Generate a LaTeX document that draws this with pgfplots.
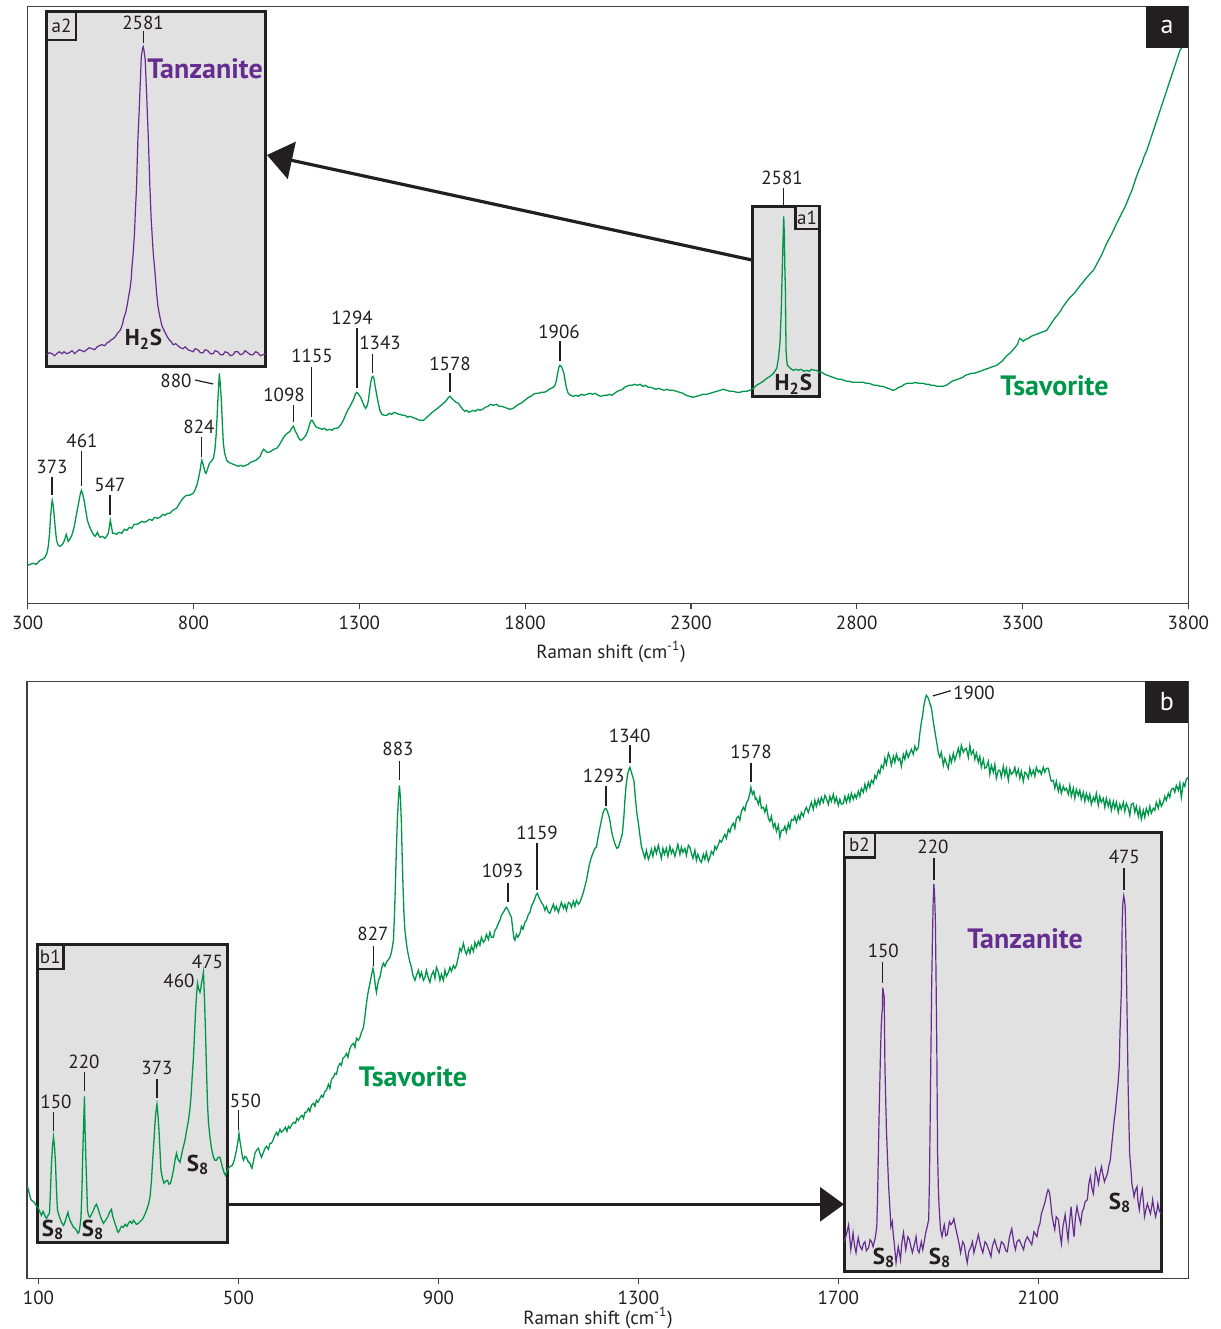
\documentclass[border=0pt]{standalone}
\usepackage{pgfplots}
\pgfplotsset{compat=1.18}
\usepackage{fontspec}
\setmainfont{PT Sans}
\usetikzlibrary{arrows.meta}
\definecolor{tsav}{HTML}{00964A}
\definecolor{tanz}{HTML}{662D91}
\definecolor{boxg}{HTML}{E1E1E1}
\definecolor{ink}{HTML}{231F20}
\definecolor{axc}{HTML}{404040}
\newcommand{\lblfont}{\fontsize{9.5}{11}\selectfont}
\newcommand{\bigbold}{\fontsize{14}{15}\selectfont\bfseries}
\newcommand{\pk}[6]{\node[lbl] at (#1,#2) {#3}; \draw[ink,line width=0.6pt] (#4,#5) -- (#4,#6);}
\pgfplotsset{
  mainax/.style={scale only axis, anchor=south west, ymin=0, ymax=597, ytick=\empty,
    axis line style={draw=axc, line width=0.7pt}, tick align=outside, xtick pos=left,
    major tick length=3pt, tick style={draw=axc, line width=0.6pt},
    ticklabel style={font=\lblfont, text=ink}, scaled x ticks=false,
    /pgf/number format/assume math mode=true, /pgf/number format/1000 sep={}},
  insetax/.style={scale only axis, anchor=south west, xtick=\empty, ytick=\empty,
    axis background/.style={fill=boxg}, axis line style={draw=ink, line width=1.5pt}}
}
\begin{document}
\begin{tikzpicture}[x=0.5pt,y=-0.5pt, lbl/.style={font=\lblfont, text=ink, inner sep=0pt}]
\path (0,0) rectangle (1221,1329);
% gray boxes beneath spectra
\draw[fill=boxg, draw=ink, line width=1.5pt] (752,206) rectangle (819,396.7);
\draw[fill=boxg, draw=ink, line width=1.5pt] (37.3,944.3) rectangle (227,1242.3);

% ---------------- panel a ----------------
\begin{axis}[mainax, at={(13.85pt,-301.65pt)}, width=580.3pt, height=298.5pt,
  xmin=300, xmax=3800, xtick={300,800,...,3800}]
\addplot[tsav, line width=0.65pt] table {
300 38
315 40
326 39
337 43
345 44
352 46
358 50
362 57
366 70
369 87
372 98
374 103
377 98
380 87
384 72
387 63
392 58
397 57
402 58
407 60
412 64
416 69
419 66
422 62
427 64
433 68
440 76
446 87
451 96
455 103
459 110
462 113
466 109
470 103
475 93
480 83
486 77
493 72
498 69
503 67
507 69
510 71
514 68
518 66
525 67
533 65
538 67
543 70
546 76
549 83
552 78
556 70
562 70
568 69
576 71
584 70
591 74
599 73
607 76
614 75
621 79
629 79
636 80
644 82
651 81
659 82
667 84
675 83
683 86
691 85
699 86
707 89
714 88
722 90
729 90
737 93
743 94
749 95
756 99
762 102
768 105
774 107
780 108
787 108
793 109
799 110
804 113
810 118
815 125
820 133
823 140
825 143
828 140
832 135
835 131
838 130
843 135
848 140
854 142
860 145
864 152
868 167
871 185
873 200
876 218
878 230
881 218
884 203
887 180
890 160
894 150
900 143
906 141
913 140
920 139
928 138
935 137
943 138
950 137
958 138
965 139
972 141
980 142
988 143
995 145
1001 147
1006 151
1011 154
1016 153
1021 151
1026 151
1034 152
1042 154
1051 155
1058 158
1065 162
1070 165
1076 168
1083 170
1091 172
1096 175
1101 177
1104 175
1107 172
1111 170
1116 166
1120 164
1124 163
1129 164
1134 166
1139 168
1145 173
1151 180
1155 183
1158 183
1163 180
1168 177
1172 176
1180 175
1188 174
1195 175
1202 173
1210 174
1218 173
1225 175
1232 175
1238 176
1245 179
1252 183
1258 188
1265 193
1272 197
1278 201
1284 205
1288 209
1292 211
1296 210
1300 208
1304 206
1309 202
1314 198
1319 195
1323 197
1327 202
1331 212
1334 220
1338 226
1341 227
1344 225
1347 219
1350 213
1355 204
1362 193
1368 189
1375 188
1383 188
1390 190
1398 189
1405 191
1413 190
1418 189
1423 189
1430 188
1438 188
1446 186
1453 187
1460 186
1468 185
1475 184
1482 183
1488 183
1494 183
1500 185
1507 187
1513 189
1520 191
1528 193
1536 195
1543 197
1550 199
1557 201
1563 203
1569 206
1574 207
1579 205
1585 203
1592 201
1599 200
1605 197
1612 194
1618 192
1624 193
1630 191
1637 192
1644 193
1650 192
1657 194
1664 193
1672 194
1680 196
1688 197
1696 199
1704 198
1714 199
1722 197
1730 197
1738 196
1746 195
1755 194
1764 195
1772 197
1780 199
1788 200
1795 202
1803 204
1810 206
1818 207
1825 209
1833 210
1841 210
1849 211
1857 211
1865 212
1872 214
1879 215
1885 216
1890 218
1894 222
1898 230
1902 236
1905 238
1909 237
1913 234
1917 230
1921 222
1925 215
1930 210
1937 208
1945 207
1953 208
1961 207
1969 209
1978 208
1987 209
1996 210
2004 209
2012 210
2020 208
2029 207
2037 208
2046 208
2054 209
2062 208
2070 210
2078 212
2086 213
2094 214
2100 216
2106 217
2114 218
2122 218
2130 219
2139 218
2147 219
2155 217
2163 218
2171 216
2179 216
2187 215
2195 214
2203 215
2211 214
2219 213
2227 214
2237 213
2247 213
2256 212
2266 211
2276 210
2286 208
2296 207
2307 206
2317 207
2327 208
2337 209
2348 209
2358 210
2368 211
2378 212
2388 213
2398 214
2408 213
2418 212
2428 212
2438 211
2448 211
2458 212
2468 212
2478 213
2488 215
2498 218
2508 220
2518 222
2529 225
2539 227
2549 230
2555 233
2559 235
2564 245
2567 255
2569 263
2571 280
2573 298
2574 313
2576 340
2578 365
2580 387
2582 365
2583 340
2585 313
2586 280
2587 253
2589 243
2591 238
2594 237
2600 235
2609 233
2617 234
2624 233
2632 234
2641 232
2649 233
2657 232
2664 234
2672 233
2679 233
2687 231
2695 231
2704 229
2712 228
2720 227
2728 226
2737 225
2745 224
2753 224
2762 223
2770 222
2778 222
2787 221
2795 221
2803 221
2812 221
2820 221
2828 220
2837 220
2845 219
2853 218
2862 218
2870 217
2878 217
2886 216
2894 215
2902 214
2910 213
2918 214
2927 216
2936 217
2944 219
2953 220
2961 220
2969 220
2977 221
2985 220
2993 220
3001 220
3009 219
3017 219
3025 218
3033 218
3041 217
3049 217
3061 217
3070 218
3079 220
3087 222
3095 223
3104 224
3112 225
3120 226
3128 228
3137 229
3145 230
3154 230
3163 231
3172 232
3180 233
3188 234
3197 235
3205 236
3213 237
3222 238
3230 240
3238 242
3246 245
3254 248
3262 250
3270 253
3278 256
3285 259
3289 263
3292 265
3296 264
3302 262
3310 264
3318 265
3326 267
3334 268
3342 269
3350 270
3358 271
3366 272
3373 273
3381 277
3389 281
3397 285
3405 288
3414 292
3423 297
3432 301
3441 305
3450 308
3456 310
3463 313
3472 317
3480 320
3489 324
3497 327
3505 330
3514 333
3522 338
3530 343
3538 348
3546 354
3554 360
3562 365
3570 370
3577 375
3584 380
3592 385
3599 390
3607 395
3614 400
3622 407
3630 413
3637 420
3644 427
3652 434
3660 440
3667 447
3675 453
3685 463
3695 473
3705 483
3715 493
3725 503
3735 513
3745 523
3755 533
3765 543
3775 553
3785 558
3796 563
3800 565
};
\end{axis}

% inset a2
\begin{axis}[insetax, at={(23.35pt,-183.35pt)}, width=109.5pt, height=177.5pt,
  xmin=2436, xmax=2765, ymin=0, ymax=355]
\addplot[tanz, line width=0.6pt] table {
2436 12
2440 14
2444 13
2448 11
2451 13
2455 15
2459 13
2462 15
2466 13
2470 14
2474 16
2478 13
2481 15
2485 17
2489 16
2492 15
2496 17
2500 19
2504 18
2508 17
2512 20
2515 21
2519 22
2523 21
2527 24
2530 25
2533 27
2536 28
2539 30
2543 34
2546 36
2548 39
2550 43
2552 49
2555 55
2557 62
2559 70
2561 77
2563 88
2564 99
2566 114
2568 135
2569 152
2571 180
2572 205
2573 227
2575 257
2576 275
2577 290
2578 309
2580 318
2581 320
2582 317
2584 307
2585 290
2586 275
2587 257
2588 240
2589 222
2591 180
2593 147
2596 114
2599 92
2601 74
2603 61
2606 50
2609 41
2614 34
2617 30
2620 27
2623 25
2626 22
2630 23
2633 21
2637 19
2641 18
2644 20
2648 17
2652 16
2656 15
2659 18
2663 17
2667 14
2671 14
2674 17
2678 16
2682 13
2686 13
2689 16
2693 15
2697 12
2701 12
2704 15
2708 14
2712 11
2716 12
2719 15
2723 15
2727 12
2731 13
2734 16
2738 14
2742 12
2746 12
2750 15
2753 14
2757 11
2761 12
2765 13
};
\end{axis}

% ---------------- panel b ----------------
\begin{axis}[mainax, at={(13.5pt,-639.15pt)}, width=580.65pt, height=298.5pt,
  xmin=77, xmax=2400, xtick={100,500,...,2100}]
\addplot[tsav, line width=0.65pt] table {
78 92
81 86
84 80
86 78
89 77
93 75
96 72
100 70
103 66
106 63
109 67
111 65
114 61
116 60
119 63
122 65
124 88
126 115
128 132
130 141
132 132
134 115
136 88
138 68
141 63
143 60
146 56
150 53
152 55
154 58
157 63
159 66
161 61
163 58
166 55
170 51
173 50
176 48
179 45
181 46
183 52
185 61
187 90
188 115
190 150
192 182
193 150
195 115
197 85
198 68
200 63
203 61
206 64
210 68
213 72
216 74
219 70
222 65
226 59
230 55
234 58
238 61
242 66
246 69
248 63
251 58
255 52
258 47
260 46
263 49
266 52
270 51
273 54
277 52
280 55
283 57
287 55
290 58
293 56
296 54
300 55
304 57
308 59
312 63
316 68
320 74
323 81
326 98
328 115
331 138
333 155
335 167
337 174
339 163
341 148
343 128
345 108
348 100
351 95
354 97
358 98
361 94
364 95
367 101
370 108
373 118
376 125
379 119
383 116
386 123
388 128
391 134
393 138
396 147
400 158
403 170
405 181
407 198
410 221
412 243
414 265
416 282
418 295
420 290
423 286
425 291
426 295
428 300
430 306
432 280
434 248
436 210
438 175
440 156
443 141
446 130
450 121
453 118
456 118
459 121
463 121
466 115
468 111
471 106
474 103
477 107
480 110
484 112
488 113
492 119
496 128
499 137
501 145
503 137
506 128
508 121
510 118
513 122
516 121
519 117
523 115
525 112
527 110
530 117
533 125
536 128
540 130
543 125
546 121
550 126
553 130
556 132
560 129
563 135
566 135
569 138
572 142
576 146
579 143
583 149
586 146
590 148
594 151
597 147
600 152
603 150
607 154
610 156
614 155
617 160
620 158
623 161
627 163
630 160
633 166
636 166
640 170
643 167
646 173
650 175
653 172
656 178
659 176
663 180
666 183
669 181
673 187
676 188
680 194
683 190
686 199
690 201
693 205
696 204
699 211
703 215
706 213
709 220
713 222
716 225
719 221
723 230
726 233
730 235
733 231
736 240
740 238
743 241
746 246
750 251
753 262
756 275
759 285
763 295
766 303
769 310
771 305
774 292
776 286
778 292
780 298
783 301
786 309
788 313
790 315
793 312
796 316
799 318
803 321
806 326
808 332
810 338
812 362
814 395
816 431
818 460
820 480
822 493
824 480
826 455
827 431
829 395
831 365
833 348
836 335
838 328
842 318
846 311
849 303
853 298
856 303
860 308
863 301
866 306
870 298
873 301
876 308
880 300
883 296
886 303
890 307
893 300
896 311
900 306
903 298
906 304
910 298
913 308
916 302
920 306
923 311
926 307
930 313
933 310
936 313
940 322
943 330
946 327
950 335
953 328
956 324
960 330
963 325
966 332
970 327
973 336
976 331
980 337
983 333
986 341
990 336
993 338
996 344
1000 339
1003 346
1006 341
1010 341
1013 348
1016 350
1020 355
1023 358
1026 363
1030 366
1033 369
1036 371
1040 368
1043 364
1046 361
1049 348
1051 340
1053 338
1056 344
1059 341
1063 345
1066 352
1069 349
1073 356
1076 358
1080 364
1083 366
1086 372
1090 376
1093 380
1096 384
1098 385
1101 381
1104 378
1107 375
1110 373
1113 368
1116 372
1120 366
1123 365
1126 369
1130 374
1133 368
1136 372
1140 366
1143 371
1146 376
1150 370
1153 374
1156 368
1160 376
1163 375
1166 371
1170 377
1173 372
1176 378
1180 374
1183 376
1186 380
1190 386
1193 392
1196 398
1199 406
1202 414
1206 421
1209 425
1213 430
1216 431
1219 440
1222 448
1226 458
1229 465
1232 469
1235 470
1238 467
1241 462
1243 458
1246 448
1249 441
1251 438
1254 433
1257 430
1260 431
1263 436
1266 441
1268 445
1271 462
1273 478
1275 491
1278 503
1281 509
1283 511
1286 506
1289 501
1291 498
1294 480
1297 465
1300 455
1303 443
1306 432
1310 425
1313 420
1316 428
1320 419
1323 423
1326 429
1329 422
1333 431
1336 425
1340 433
1343 426
1346 420
1349 430
1352 424
1356 430
1359 422
1363 432
1366 425
1369 429
1373 422
1376 428
1379 434
1383 424
1386 431
1389 426
1393 430
1396 423
1400 433
1403 431
1406 425
1409 420
1413 428
1416 418
1419 424
1423 418
1426 416
1430 424
1433 419
1436 426
1440 417
1443 421
1446 427
1450 424
1453 432
1456 429
1460 434
1463 438
1466 436
1470 441
1473 444
1476 440
1480 449
1483 446
1486 452
1490 455
1493 450
1496 460
1500 462
1503 458
1506 467
1510 471
1513 468
1516 475
1520 479
1523 485
1525 491
1528 484
1531 487
1534 479
1536 480
1540 474
1543 481
1546 470
1550 471
1553 466
1556 472
1560 460
1563 457
1566 462
1570 451
1573 455
1576 447
1580 453
1583 441
1586 448
1590 448
1593 452
1596 446
1600 455
1603 450
1606 459
1610 458
1613 462
1616 456
1620 463
1623 459
1626 466
1630 462
1633 468
1636 471
1640 466
1643 471
1646 476
1650 469
1653 478
1656 472
1660 479
1663 474
1666 481
1670 476
1673 483
1676 480
1680 474
1683 482
1686 477
1690 484
1693 476
1696 481
1700 473
1703 479
1706 474
1710 475
1713 482
1716 476
1720 483
1723 477
1726 485
1730 479
1733 484
1736 480
1740 487
1743 482
1746 490
1750 486
1753 494
1756 488
1760 496
1763 491
1766 498
1770 495
1773 503
1776 500
1780 508
1783 505
1786 513
1790 510
1793 520
1796 514
1800 525
1803 521
1806 513
1810 522
1813 516
1816 524
1820 518
1823 520
1826 512
1830 524
1833 519
1836 527
1840 521
1843 525
1846 529
1850 524
1853 532
1856 528
1860 531
1863 545
1866 556
1868 561
1871 572
1874 580
1876 583
1879 581
1882 577
1884 573
1886 571
1889 560
1892 550
1895 541
1898 532
1900 525
1903 521
1906 526
1910 513
1913 520
1916 515
1920 510
1923 522
1926 516
1930 525
1933 518
1936 523
1940 530
1943 522
1946 533
1950 526
1953 529
1956 530
1960 521
1963 533
1966 524
1970 528
1973 519
1976 525
1980 516
1983 522
1986 511
1990 519
1993 510
1996 511
2000 517
2003 504
2006 513
2010 506
2013 514
2016 500
2020 508
2023 508
2026 501
2030 512
2033 503
2036 510
2040 498
2043 509
2046 504
2050 506
2053 511
2056 503
2060 509
2063 500
2066 507
2070 497
2073 506
2076 505
2080 500
2083 510
2086 503
2090 508
2093 502
2096 511
2100 506
2103 508
2106 504
2110 511
2113 506
2116 510
2120 510
2123 503
2126 497
2130 498
2133 490
2136 497
2140 487
2143 494
2146 485
2150 492
2153 488
2156 490
2160 484
2163 493
2166 482
2170 490
2173 480
2176 489
2180 483
2183 488
2186 479
2190 486
2193 477
2196 485
2200 478
2203 484
2206 474
2210 481
2213 477
2216 485
2220 473
2223 482
2226 476
2230 480
2233 471
2236 480
2240 472
2243 478
2246 468
2250 477
2253 470
2256 476
2260 466
2263 474
2266 469
2270 476
2273 467
2276 475
2280 470
2283 463
2286 474
2290 475
2293 466
2296 472
2300 462
2303 470
2306 459
2310 468
2313 461
2316 470
2320 464
2323 472
2326 465
2330 470
2333 468
2336 476
2340 470
2343 478
2346 472
2350 476
2353 482
2356 478
2360 485
2363 481
2366 489
2370 490
2373 486
2376 493
2380 488
2383 495
2386 481
2390 495
2393 492
2396 499
2400 501
};
\end{axis}

% inset b2
\begin{axis}[insetax, at={(422pt,-635.85pt)}, width=158.5pt, height=219.5pt,
  xmin=97.8, xmax=525.3, ymin=0, ymax=439]
\addplot[tanz, line width=0.6pt] table {
98 30
99 32
102 40
104 47
106 30
107 22
109 33
110 39
112 26
114 19
116 30
117 34
119 26
122 22
124 28
126 30
128 21
131 24
133 32
135 30
137 25
140 34
142 45
143 72
145 152
147 219
148 245
149 259
149.5 262
150 284
152 275
153 205
155 142
158 85
160 60
161 45
163 50
164 39
166 25
168 9
170 20
171 25
173 17
174 12
176 30
178 39
180 28
181 22
184 35
186 32
188 25
190 19
193 28
195 35
197 22
199 19
202 30
204 22
206 30
208 39
210 45
212 52
213 90
214 152
215 220
216 285
217 330
218 369
219 388
220 376
221 352
222 290
223 219
224 119
225 85
226 65
228 42
230 35
232 44
233 47
235 36
237 37
240 50
242 47
244 49
246 53
248 45
251 35
253 28
255 19
258 30
260 27
262 17
264 9
266 20
269 25
271 30
273 19
276 28
279 37
282 26
285 19
288 30
290 28
293 22
296 15
298 26
301 32
304 24
307 19
310 30
313 28
316 21
318 20
321 35
324 43
327 28
329 22
331 30
334 32
337 27
340 22
342 30
345 35
348 31
351 27
354 40
358 35
360 44
362 48
364 58
367 65
369 70
371 77
373 82
375 79
377 66
378 58
380 49
382 42
384 55
387 52
389 38
391 28
393 45
396 57
398 44
400 32
402 50
404 65
406 48
408 35
410 55
412 65
414 57
417 48
419 60
421 63
423 70
426 72
428 88
430 95
432 84
434 78
436 92
437 102
439 96
441 88
443 98
445 105
447 97
449 90
451 94
453 98
455 106
457 112
459 128
460 135
462 150
464 162
466 178
467 185
468 195
469 205
470 240
471 262
472 285
473 352
474 370
475 376
476 372
477 365
478 330
479 285
480 235
481 185
482 150
483 118
485 100
486 88
488 80
489 75
491 82
493 85
494 72
496 62
498 75
500 82
502 66
503 55
505 62
507 68
509 63
511 58
513 66
514 72
516 62
518 55
520 62
521 68
523 61
525 58
};
\end{axis}

% ---------------- annotations ----------------
% corner labels
\fill[ink] (1146,6) rectangle (1188,48);
\node[text=white, font=\fontsize{13}{13}\selectfont, inner sep=0pt] at (1167,27) {a};
\fill[ink] (1145,681) rectangle (1188,723);
\node[text=white, font=\fontsize{13}{13}\selectfont, inner sep=0pt] at (1167,702) {b};

% axis titles
\node[lbl] at (611,652) {Raman shift (cm\textsuperscript{-1})};
\node[lbl] at (598,1318) {Raman shift (cm\textsuperscript{-1})};

% arrows
\draw[ink, line width=1.6pt, -{Triangle[length=12.7pt,width=18.8pt]}] (752,260) -- (267,155);
\draw[ink, line width=1.5pt, -{Triangle[length=12pt,width=17pt]}] (227,1204.3) -- (844,1204.3);

% small box labels
\draw[fill=boxg, draw=ink, line width=1.2pt] (46.7,11.7) rectangle (76,40);
\node[lbl] at (61.5,25.5) {a2};
\draw[fill=boxg, draw=ink, line width=1.2pt] (795.3,206) rectangle (819,229);
\node[lbl] at (807,217.5) {a1};
\draw[fill=boxg, draw=ink, line width=1.2pt] (37.3,944.3) rectangle (63.3,969);
\node[lbl] at (50.3,956.5) {b1};
\draw[fill=boxg, draw=ink, line width=1.2pt] (844,832.7) rectangle (875,857.3);
\node[lbl] at (859.5,845) {b2};

% panel a peak labels
\pk{52}{467}{373}{52}{477}{495}
\pk{82}{441}{461}{81.3}{451}{486}
\pk{110}{485}{547}{110}{495}{515}
\pk{199}{427}{824}{201.7}{437}{457}
\node[lbl] at (176,381) {880};
\draw[ink,line width=0.6pt] (195,380) -- (213.3,384);
\pk{284}{395}{1098}{293.3}{405}{422}
\pk{312}{356}{1155}{311.7}{367}{417}
\pk{352}{318}{1294}{357}{328}{388}
\pk{380}{343}{1343}{372.7}{354}{373}
\pk{450}{364}{1578}{450}{373}{392}
\pk{559}{332}{1906}{560}{341}{361}
\pk{782}{177.7}{2581}{783.7}{188}{206}
\pk{143}{23}{2581}{143.3}{31}{43}
\node[font=\bigbold, text=tanz, inner sep=0pt] at (205,69) {Tanzanite};
\node[font=\fontsize{11.5}{12}\selectfont\bfseries, text=ink, inner sep=0pt] at (143.5,339) {H\textsubscript{2}S};
\node[font=\fontsize{11.5}{12}\selectfont\bfseries, text=ink, inner sep=0pt] at (793.3,384) {H\textsubscript{2}S};
\node[font=\bigbold, text=tsav, inner sep=0pt] at (1054.5,386) {Tsavorite};

% panel b peak labels
\pk{56}{1101.7}{150}{53.7}{1112}{1131}
\pk{84}{1061.7}{220}{84.3}{1072}{1091}
\pk{157}{1068}{373}{157}{1079}{1098}
\node[lbl] at (179,981) {460};
\node[lbl] at (207.5,962) {475};
\pk{245.5}{1100.7}{550}{238.7}{1110}{1130}
\pk{373}{934.3}{827}{373.3}{946}{966}
\pk{398}{749.3}{883}{399.7}{761}{780}
\pk{502.5}{871}{1093}{508}{882.7}{901.7}
\pk{537}{833.3}{1159}{537}{843.3}{890}
\pk{603.7}{776}{1293}{606}{786}{806}
\pk{629.7}{736}{1340}{630}{745}{763.3}
\pk{751}{751.7}{1578}{751}{762.7}{781.7}
\node[lbl] at (974,693) {1900};
\draw[ink,line width=0.6pt] (932.7,696) -- (950.7,690.7);
\node[font=\bigbold, text=tsav, inner sep=0pt] at (413,1076.7) {Tsavorite};
\node[font=\fontsize{11.5}{12}\selectfont\bfseries, text=ink, inner sep=0pt] at (53,1230) {S\textsubscript{8}};
\node[font=\fontsize{11.5}{12}\selectfont\bfseries, text=ink, inner sep=0pt] at (93,1230) {S\textsubscript{8}};
\node[font=\fontsize{11.5}{12}\selectfont\bfseries, text=ink, inner sep=0pt] at (198,1165) {S\textsubscript{8}};

% inset b2 labels
\pk{883.3}{950.7}{150}{882.7}{961.7}{983.3}
\pk{933}{847.3}{220}{934}{858.3}{880}
\pk{1124.3}{857.3}{475}{1124}{868.3}{890}
\node[font=\bigbold, text=tanz, inner sep=0pt] at (1025,938.3) {Tanzanite};
\node[font=\fontsize{11.5}{12}\selectfont\bfseries, text=ink, inner sep=0pt] at (884,1258) {S\textsubscript{8}};
\node[font=\fontsize{11.5}{12}\selectfont\bfseries, text=ink, inner sep=0pt] at (940,1258) {S\textsubscript{8}};
\node[font=\fontsize{11.5}{12}\selectfont\bfseries, text=ink, inner sep=0pt] at (1120,1203) {S\textsubscript{8}};
\end{tikzpicture}
\end{document}
